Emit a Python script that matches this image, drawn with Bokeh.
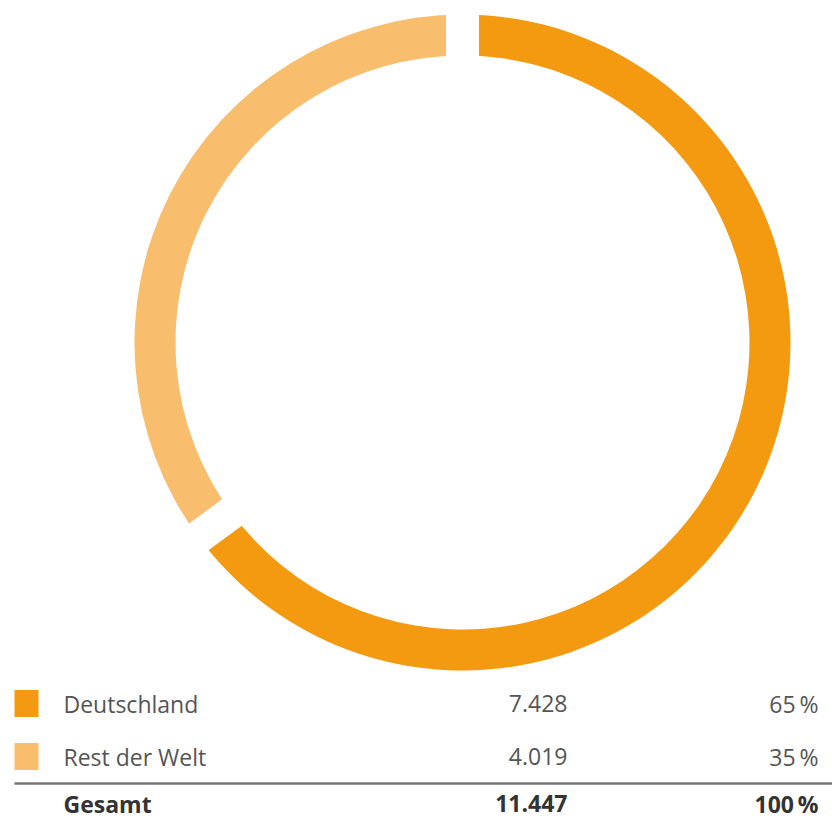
import math
from bokeh.plotting import figure
from bokeh.models import ColumnDataSource, Range1d
from bokeh.core.properties import value
from bokeh.embed import file_html
from bokeh.resources import INLINE

categories = ["Deutschland", "Rest der Welt"]
values = [7428, 4019]
colors = ["#F39A10", "#F8BE6E"]
total_label = "Gesamt"

total = sum(values)

def fmt(n):
    return f"{n:,}".replace(",", ".")

W, H = 832, 820
p = figure(width=W, height=H, output_backend="svg", toolbar_location=None,
           x_range=Range1d(0, W), y_range=Range1d(0, H), min_border=0)
p.axis.visible = False
p.grid.visible = False
p.outline_line_color = None
p.background_fill_color = "white"
p.border_fill_color = "white"

# donut
cx, cy = 462, H - 342
r_out, r_in = 328, 287
starts, ends = [], []
acc = 0.0
for v in values:
    a0 = math.pi / 2 - 2 * math.pi * acc / total
    acc += v
    a1 = math.pi / 2 - 2 * math.pi * acc / total
    starts.append(a0)
    ends.append(a1)
src = ColumnDataSource(dict(x=[cx] * len(values), y=[cy] * len(values),
                            start=starts, end=ends, color=colors))
p.annular_wedge(x="x", y="y", inner_radius=r_in, outer_radius=r_out,
                start_angle="start", end_angle="end", direction="clock",
                fill_color="color", line_color=None, source=src)

# gaps at segment boundaries
rm = (r_in + r_out) / 2
gx = [cx + rm * math.cos(a) for a in starts]
gy = [cy + rm * math.sin(a) for a in starts]
p.rect(x=gx, y=gy, width=(r_out - r_in) + 20, height=33, angle=starts,
       fill_color="white", line_color=None)

FS = "23px"
# legend table
row_y = [H - 703, H - 756]
p.rect(x=[26] * len(values), y=row_y, width=24, height=27,
       fill_color=colors, line_color=None)
p.text(x=[63] * len(values), y=row_y, text=categories,
       text_font=value("Open Sans"), text_font_size=FS,
       text_color="#555555", text_baseline="middle", text_align="left")
p.text(x=[567] * len(values), y=row_y, text=[fmt(v) for v in values],
       text_font=value("Open Sans"), text_font_size=FS,
       text_color="#555555", text_baseline="middle", text_align="right")
p.text(x=[818] * len(values), y=row_y,
       text=[f"{round(v / total * 100)}\u2009%" for v in values],
       text_font=value("Open Sans"), text_font_size=FS,
       text_color="#555555", text_baseline="middle", text_align="right")

p.segment(x0=[14], y0=[H - 783], x1=[832], y1=[H - 783],
          line_color="#777777", line_width=2.5)

tot_y = H - 803
p.text(x=[63], y=[tot_y], text=[total_label], text_font=value("Open Sans"),
       text_font_size=FS, text_font_style="bold", text_color="#333333",
       text_baseline="middle", text_align="left")
p.text(x=[567], y=[tot_y], text=[fmt(total)], text_font=value("Open Sans"),
       text_font_size=FS, text_font_style="bold", text_color="#333333",
       text_baseline="middle", text_align="right")
p.text(x=[818], y=[tot_y], text=["100\u2009%"], text_font=value("Open Sans"),
       text_font_size=FS, text_font_style="bold", text_color="#333333",
       text_baseline="middle", text_align="right")

open("out.html", "w").write(file_html(p, INLINE))
